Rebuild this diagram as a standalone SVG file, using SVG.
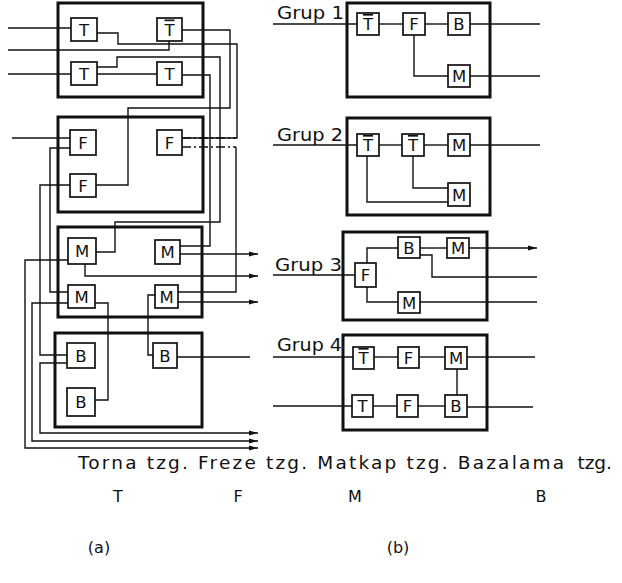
<svg xmlns="http://www.w3.org/2000/svg" width="622" height="583" viewBox="0 0 622 583">
<defs>
<marker id="ar" markerUnits="userSpaceOnUse" markerWidth="9" markerHeight="6" refX="9" refY="3" orient="auto"><path d="M0,0.5 L9,3 L0,5.5 z" fill="#111"/></marker>
<style>
.box{fill:none;stroke:#111;stroke-width:3}
.nd{fill:#fff;stroke:#111;stroke-width:1.7}
.ln{fill:none;stroke:#111;stroke-width:1.4}
.da{stroke-dasharray:9 3 2 3}
.t{font-family:"DejaVu Sans","Liberation Sans",sans-serif;font-size:16.5px;fill:#111;text-anchor:middle}
.ov{text-decoration:overline}
.g{font-family:"DejaVu Sans","Liberation Sans",sans-serif;font-size:17px;fill:#111}
.cap{font-family:"DejaVu Sans","Liberation Sans",sans-serif;font-size:18.5px;fill:#111}
.lt{font-family:"DejaVu Sans","Liberation Sans",sans-serif;font-size:16px;fill:#111;text-anchor:middle}
</style>
</defs>
<rect width="622" height="583" fill="#fff"/>

<!-- (a) boxes -->
<g id="cellT"><rect class="box" x="58" y="3" width="145" height="94"/></g>
<g id="cellF"><rect class="box" x="58" y="117" width="145" height="95"/></g>
<g id="cellM"><rect class="box" x="58" y="227" width="144" height="90"/></g>
<g id="cellB"><rect class="box" x="55" y="333" width="147" height="94"/></g>

<!-- (b) boxes -->
<g id="grup1box"><rect class="box" x="347" y="3" width="143" height="94"/></g>
<g id="grup2box"><rect class="box" x="347" y="118" width="143" height="97"/></g>
<g id="grup3box"><rect class="box" x="343" y="232" width="144" height="88"/></g>
<g id="grup4box"><rect class="box" x="343" y="335" width="144" height="95"/></g>

<g id="connectors">
<!-- (a) box T -->
<path class="ln" d="M8,28 H71"/>
<path class="ln" d="M8,50 H169 V41"/>
<path class="ln" d="M8,74 H71"/>
<path class="ln" d="M97,33 H118 V44 H237 V138 H182"/>
<path class="ln" d="M182,30 H230 V108 H128 V185 H96"/>
<path class="ln" d="M97,67 H117 V57 H220 V222 H115 V252 H96"/>
<path class="ln" d="M97,74 H157"/>
<path class="ln" d="M182,75 H210 V246 H180"/>
<!-- (a) box F -->
<path class="ln" d="M12,138 H70"/>
<path class="ln" d="M70,148 H50 V292 H68"/>
<path class="ln" d="M70,185 H40 V355 H67"/>
<path class="ln da" d="M182,138 H236"/>
<path class="ln da" d="M182,147 H236"/>
<path class="ln" d="M236,147 V292 H178"/>
<!-- (a) box M -->
<path class="ln" d="M68,260 H25 V448 H258" marker-end="url(#ar)"/>
<path class="ln" d="M85,264 V276 H258" marker-end="url(#ar)"/>
<path class="ln" d="M180,254 H258" marker-end="url(#ar)"/>
<path class="ln" d="M68,303 H32 V441 H258" marker-end="url(#ar)"/>
<path class="ln" d="M95,303 H108 V400 H95"/>
<path class="ln" d="M178,302 H258" marker-end="url(#ar)"/>
<path class="ln" d="M155,295 H148 V355 H153"/>
<!-- (a) box B -->
<path class="ln" d="M67,363 H40 V433 H258" marker-end="url(#ar)"/>
<path class="ln" d="M177,357 H250"/>

<!-- Grup 1 -->
<path class="ln" d="M273,24 H357"/>
<path class="ln" d="M379,24 H403"/>
<path class="ln" d="M425,24 H448"/>
<path class="ln" d="M470,24 H540"/>
<path class="ln" d="M414,35 V76 H448"/>
<path class="ln" d="M470,76 H540"/>
<!-- Grup 2 -->
<path class="ln" d="M273,145 H357"/>
<path class="ln" d="M379,145 H402"/>
<path class="ln" d="M424,145 H448"/>
<path class="ln" d="M470,145 H540"/>
<path class="ln" d="M413,156 V188 H448"/>
<path class="ln" d="M367,156 V202 H448"/>
<!-- Grup 3 -->
<path class="ln" d="M273,275 H355"/>
<path class="ln" d="M367,263 V248 H398"/>
<path class="ln" d="M420,248 H447"/>
<path class="ln" d="M469,248 H537" marker-end="url(#ar)"/>
<path class="ln" d="M420,255 H432 V277 H537"/>
<path class="ln" d="M367,287 V302 H398"/>
<path class="ln" d="M420,302 H537"/>
<!-- Grup 4 -->
<path class="ln" d="M273,357 H353"/>
<path class="ln" d="M374,357 H398"/>
<path class="ln" d="M419,357 H445"/>
<path class="ln" d="M467,357 H535"/>
<path class="ln" d="M457,369 V395"/>
<path class="ln" d="M273,406 H352"/>
<path class="ln" d="M373,406 H397"/>
<path class="ln" d="M418,406 H445"/>
<path class="ln" d="M467,407 H533"/>
</g>

<!-- (a) nodes -->
<g id="aT1"><rect class="nd" x="71" y="18" width="26" height="23"/><text class="t" x="84" y="35.5">T</text></g>
<g id="aT2"><rect class="nd" x="157" y="18" width="25" height="23"/><text class="t ov" x="169.5" y="35.5">T</text></g>
<g id="aT3"><rect class="nd" x="71" y="62" width="26" height="23"/><text class="t" x="84" y="79.5">T</text></g>
<g id="aT4"><rect class="nd" x="157" y="62" width="25" height="23"/><text class="t" x="169.5" y="79.5">T</text></g>
<g id="aF1"><rect class="nd" x="70" y="130" width="26" height="25"/><text class="t" x="83" y="148.5">F</text></g>
<g id="aF2"><rect class="nd" x="70" y="174" width="26" height="23"/><text class="t" x="83" y="191.5">F</text></g>
<g id="aF3"><rect class="nd" x="157" y="130" width="25" height="25"/><text class="t" x="169.5" y="148.5">F</text></g>
<g id="aM1"><rect class="nd" x="68" y="238" width="28" height="26"/><text class="t" x="82" y="257">M</text></g>
<g id="aM2"><rect class="nd" x="155" y="240" width="25" height="24"/><text class="t" x="167.5" y="258">M</text></g>
<g id="aM3"><rect class="nd" x="68" y="285" width="27" height="23"/><text class="t" x="81.5" y="302.5">M</text></g>
<g id="aM4"><rect class="nd" x="155" y="285" width="23" height="23"/><text class="t" x="166.5" y="302.5">M</text></g>
<g id="aB1"><rect class="nd" x="67" y="343" width="28" height="25"/><text class="t" x="81" y="361.5">B</text></g>
<g id="aB2"><rect class="nd" x="67" y="388" width="28" height="28"/><text class="t" x="81" y="408">B</text></g>
<g id="aB3"><rect class="nd" x="153" y="343" width="24" height="25"/><text class="t" x="165" y="361.5">B</text></g>

<!-- Grup 1 nodes -->
<g id="g1T"><rect class="nd" x="357" y="13" width="22" height="22"/><text class="t ov" x="368" y="30">T</text></g>
<g id="g1F"><rect class="nd" x="403" y="13" width="22" height="22"/><text class="t" x="414" y="30">F</text></g>
<g id="g1B"><rect class="nd" x="448" y="13" width="22" height="22"/><text class="t" x="459" y="30">B</text></g>
<g id="g1M"><rect class="nd" x="448" y="65" width="22" height="22"/><text class="t" x="459" y="82">M</text></g>
<!-- Grup 2 nodes -->
<g id="g2T1"><rect class="nd" x="357" y="134" width="22" height="22"/><text class="t ov" x="368" y="151">T</text></g>
<g id="g2T2"><rect class="nd" x="402" y="134" width="22" height="22"/><text class="t ov" x="413" y="151">T</text></g>
<g id="g2M1"><rect class="nd" x="448" y="134" width="22" height="22"/><text class="t" x="459" y="151">M</text></g>
<g id="g2M2"><rect class="nd" x="448" y="183" width="22" height="23"/><text class="t" x="459" y="200.5">M</text></g>
<!-- Grup 3 nodes -->
<g id="g3F"><rect class="nd" x="355" y="263" width="21" height="24"/><text class="t" x="365.5" y="281">F</text></g>
<g id="g3B"><rect class="nd" x="398" y="237" width="22" height="21"/><text class="t" x="409" y="253.5">B</text></g>
<g id="g3M1"><rect class="nd" x="447" y="238" width="22" height="20"/><text class="t" x="458" y="254">M</text></g>
<g id="g3M2"><rect class="nd" x="398" y="292" width="22" height="21"/><text class="t" x="409" y="308.5">M</text></g>
<!-- Grup 4 nodes -->
<g id="g4T1"><rect class="nd" x="353" y="347" width="21" height="22"/><text class="t ov" x="363.5" y="364">T</text></g>
<g id="g4F1"><rect class="nd" x="398" y="347" width="21" height="21"/><text class="t" x="408.5" y="363.5">F</text></g>
<g id="g4M"><rect class="nd" x="445" y="347" width="22" height="22"/><text class="t" x="456" y="364">M</text></g>
<g id="g4T2"><rect class="nd" x="352" y="395" width="21" height="22"/><text class="t" x="362.5" y="412">T</text></g>
<g id="g4F2"><rect class="nd" x="397" y="395" width="21" height="22"/><text class="t" x="407.5" y="412">F</text></g>
<g id="g4B"><rect class="nd" x="445" y="395" width="22" height="22"/><text class="t" x="456" y="412">B</text></g>

<!-- Group labels -->
<g id="labels">
<text class="g" x="277" y="19" textLength="67" lengthAdjust="spacingAndGlyphs">Grup 1</text>
<text class="g" x="277" y="141" textLength="66" lengthAdjust="spacingAndGlyphs">Grup 2</text>
<text class="g" x="275" y="271" textLength="67" lengthAdjust="spacingAndGlyphs">Grup 3</text>
<text class="g" x="277" y="351" textLength="65" lengthAdjust="spacingAndGlyphs">Grup 4</text>

<text class="cap" x="78" y="469" textLength="486" lengthAdjust="spacing">Torna tzg. Freze tzg. Matkap tzg. Bazalama</text>
<text class="cap" x="612" y="469" text-anchor="end">tzg.</text>
<text class="lt" x="118" y="502">T</text>
<text class="lt" x="238" y="502">F</text>
<text class="lt" x="355" y="502">M</text>
<text class="lt" x="541" y="502">B</text>
<text class="lt" x="99" y="553">(a)</text>
<text class="lt" x="398" y="553">(b)</text>
</g>
</svg>
